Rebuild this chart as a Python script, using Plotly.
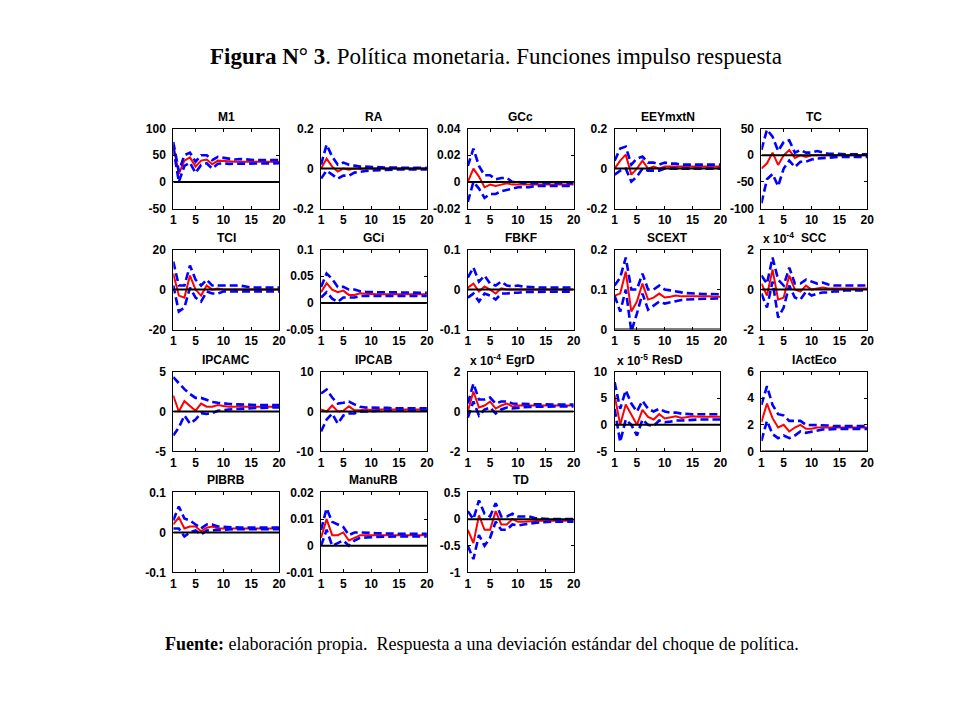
import plotly.graph_objects as go

periods = list(range(1, 21))

names = ["M1", "RA", "GCc", "EEYmxtN", "TC",
         "TCI", "GCi", "FBKF", "SCEXT", "SCC",
         "IPCAMC", "IPCAB", "EgrD", "ResD", "IActEco",
         "PIBRB", "ManuRB", "TD"]
exponents = {"SCC": "-4", "EgrD": "-4", "ResD": "-5"}

# ---- responses (red) and bands (blue dashed) ----
M1_mid = [70, 15, 40, 46, 29, 40, 42, 33, 40, 40, 39, 38, 38, 39, 38, 38, 38, 38, 38, 38]
M1_up = [75, 20, 50, 55, 38, 50, 50, 41, 47, 45, 43, 42, 43, 42, 41, 41, 41, 41, 41, 41]
M1_lo = [65, 0, 30, 36, 17, 32, 35, 25, 34, 35, 34, 34, 34, 35, 35, 35, 35, 35, 35, 35]

RA_mid = [0.0, 0.05, 0.01, -0.015, 0.0, -0.005, 0.0, -0.002, 0.0, 0.0, 0.0, 0.0, 0.0, 0.0, 0.0, 0.0, 0.0, 0.0, 0.0, 0.0]
RA_up = [0.02, 0.12, 0.06, 0.02, 0.03, 0.02, 0.015, 0.01, 0.01, 0.008, 0.006, 0.005, 0.005, 0.005, 0.004, 0.004, 0.004, 0.004, 0.004, 0.004]
RA_lo = [-0.05, -0.01, -0.03, -0.05, -0.035, -0.035, -0.02, -0.015, -0.012, -0.01, -0.008, -0.006, -0.005, -0.005, -0.004, -0.004, -0.004, -0.004, -0.004, -0.004]

GCc_mid = [0.0, 0.01, 0.004, -0.004, -0.002, -0.003, -0.002, -0.001, -0.002, -0.002, -0.002, -0.002, -0.002, -0.002, -0.002, -0.002, -0.002, -0.002, -0.002, -0.002]
GCc_up = [0.012, 0.025, 0.012, 0.005, 0.005, 0.002, 0.003, 0.003, 0.0, 0.0, -0.001, -0.001, -0.001, -0.001, -0.001, -0.001, -0.001, -0.001, -0.001, -0.001]
GCc_lo = [-0.015, 0.0, -0.005, -0.012, -0.009, -0.009, -0.007, -0.006, -0.005, -0.004, -0.004, -0.004, -0.003, -0.003, -0.003, -0.003, -0.003, -0.003, -0.003, -0.003]

EEY_mid = [0.0, 0.04, 0.07, -0.03, 0.0, 0.04, 0.0, 0.01, 0.0, 0.01, 0.01, 0.01, 0.01, 0.01, 0.01, 0.01, 0.01, 0.01, 0.01, 0.01]
EEY_up = [0.04, 0.1, 0.11, 0.02, 0.05, 0.06, 0.03, 0.03, 0.02, 0.03, 0.025, 0.025, 0.02, 0.02, 0.02, 0.02, 0.02, 0.02, 0.02, 0.02]
EEY_lo = [-0.03, -0.01, 0.0, -0.065, -0.04, 0.0, -0.01, -0.01, -0.01, 0.0, 0.0, 0.0, 0.0, 0.0, 0.0, 0.0, 0.0, 0.0, 0.0, 0.0]

TC_mid = [-25, -15, 5, -18, 0, 10, -5, 0, -3, 0, 0, 0, 0, 0, 0, 0, 0, 0, 0, 0]
TC_up = [10, 48, 35, 8, 25, 28, 5, 10, 5, 5, 8, 5, 3, 3, 2, 2, 2, 2, 2, 2]
TC_lo = [-90, -45, -35, -58, -25, -10, -22, -12, -12, -8, -6, -5, -4, -4, -3, -3, -3, -3, -3, -3]

TCI_mid = [8, -3, -4, 7, 0, -3, 2, 0, 0.5, 0, 0, 0, 0, 0, 0, 0, 0, 0, 0, 0]
TCI_up = [14, 2, 2, 12, 5, 2, 5, 2, 2, 2, 2, 2, 2, 1.5, 1, 1, 1, 1, 1, 1]
TCI_lo = [2, -11, -9, 1, -4, -6, -1, -2, -2, -1, -1, -1, -1, -1, -1, -1, -1, -1, -1, -1]

GCi_mid = [0.02, 0.037, 0.025, 0.02, 0.023, 0.015, 0.015, 0.018, 0.017, 0.016, 0.016, 0.016, 0.016, 0.016, 0.016, 0.016, 0.016, 0.016, 0.016, 0.016]
GCi_up = [0.03, 0.055, 0.045, 0.03, 0.03, 0.025, 0.025, 0.022, 0.021, 0.02, 0.02, 0.02, 0.02, 0.02, 0.02, 0.019, 0.019, 0.019, 0.019, 0.019]
GCi_lo = [0.01, 0.02, 0.008, 0.002, 0.01, 0.01, 0.01, 0.013, 0.013, 0.013, 0.013, 0.013, 0.013, 0.013, 0.013, 0.013, 0.013, 0.013, 0.013, 0.013]

FBKF_mid = [0.005, 0.015, -0.005, 0.008, 0.0, -0.01, 0.003, 0.0, 0.0, 0.0, 0.0, 0.0, 0.0, 0.0, 0.0, 0.0, 0.0, 0.0, 0.0, 0.0]
FBKF_up = [0.03, 0.055, 0.02, 0.035, 0.015, 0.01, 0.02, 0.01, 0.008, 0.01, 0.007, 0.006, 0.005, 0.005, 0.005, 0.005, 0.005, 0.005, 0.005, 0.005]
FBKF_lo = [-0.02, -0.01, -0.03, -0.01, -0.015, -0.025, -0.01, -0.01, -0.008, -0.008, -0.006, -0.006, -0.005, -0.005, -0.005, -0.005, -0.005, -0.005, -0.005, -0.005]

SCEXT_mid = [0.085, 0.09, 0.145, 0.045, 0.07, 0.115, 0.075, 0.08, 0.09, 0.08, 0.082, 0.085, 0.083, 0.083, 0.084, 0.083, 0.083, 0.083, 0.082, 0.082]
SCEXT_up = [0.11, 0.13, 0.18, 0.1, 0.1, 0.14, 0.1, 0.1, 0.11, 0.1, 0.098, 0.095, 0.093, 0.091, 0.09, 0.09, 0.089, 0.089, 0.088, 0.088]
SCEXT_lo = [0.085, 0.045, 0.1, -0.005, 0.04, 0.09, 0.05, 0.06, 0.07, 0.065, 0.068, 0.072, 0.074, 0.075, 0.076, 0.077, 0.077, 0.077, 0.078, 0.078]

SCC_mid = [0.3, -0.3, 1.0, -0.5, -0.4, 0.7, 0.0, -0.1, 0.2, 0.0, 0.05, 0.1, 0.05, 0.05, 0.05, 0.05, 0.05, 0.05, 0.05, 0.05]
SCC_up = [0.7, 0.3, 1.6, 0.5, 0.2, 1.1, 0.3, 0.3, 0.5, 0.4, 0.3, 0.35, 0.25, 0.2, 0.2, 0.2, 0.2, 0.2, 0.2, 0.2]
SCC_lo = [-0.2, -0.9, 0.4, -1.4, -0.9, 0.2, -0.4, -0.5, -0.1, -0.3, -0.2, -0.15, -0.15, -0.1, -0.1, -0.05, -0.05, -0.05, -0.05, -0.05]

IPCAMC_mid = [2.0, 0.0, 1.3, 0.7, 0.1, 1.0, 0.6, 0.6, 0.8, 0.7, 0.6, 0.6, 0.65, 0.6, 0.6, 0.6, 0.6, 0.6, 0.6, 0.6]
IPCAMC_up = [4.3, 3.5, 2.8, 2.2, 1.7, 1.7, 1.4, 1.2, 1.1, 1.0, 0.95, 0.9, 0.9, 0.85, 0.85, 0.8, 0.8, 0.8, 0.8, 0.8]
IPCAMC_lo = [-3.0, -2.0, -0.5, -1.5, -1.0, -0.2, -0.3, -0.2, 0.1, 0.2, 0.25, 0.3, 0.35, 0.4, 0.4, 0.45, 0.45, 0.5, 0.5, 0.5]

IPCAB_mid = [0.5, 0.0, 1.5, 0.0, 0.2, 1.3, 0.3, 0.3, 0.5, 0.4, 0.5, 0.5, 0.5, 0.5, 0.5, 0.5, 0.5, 0.5, 0.5, 0.5]
IPCAB_up = [4.5, 5.5, 3.5, 2.0, 2.2, 2.5, 1.8, 1.2, 1.0, 1.0, 0.9, 0.9, 0.9, 0.8, 0.8, 0.8, 0.8, 0.8, 0.8, 0.8]
IPCAB_lo = [-5.0, -2.0, -0.5, -3.0, -1.0, -0.5, -0.5, 0.0, 0.0, 0.1, 0.1, 0.2, 0.2, 0.2, 0.2, 0.2, 0.2, 0.2, 0.2, 0.2]

EgrD_mid = [0.0, 1.0, 0.2, 0.3, 0.5, 0.15, 0.3, 0.4, 0.25, 0.3, 0.3, 0.3, 0.3, 0.3, 0.3, 0.3, 0.3, 0.3, 0.3, 0.3]
EgrD_up = [0.4, 1.4, 0.6, 0.6, 0.7, 0.4, 0.5, 0.5, 0.4, 0.4, 0.38, 0.37, 0.36, 0.35, 0.35, 0.35, 0.35, 0.35, 0.35, 0.35]
EgrD_lo = [-0.3, 0.5, -0.2, 0.1, 0.2, -0.1, 0.1, 0.2, 0.15, 0.2, 0.22, 0.23, 0.24, 0.25, 0.25, 0.25, 0.25, 0.25, 0.25, 0.25]

ResD_mid = [5.5, 0.0, 3.8, 2.0, 0.0, 2.8, 1.5, 1.0, 2.0, 1.2, 1.4, 1.6, 1.3, 1.5, 1.6, 1.5, 1.5, 1.5, 1.5, 1.5]
ResD_up = [8.0, 3.0, 6.5, 4.0, 2.5, 4.5, 3.0, 2.5, 3.0, 2.5, 2.3, 2.3, 2.1, 2.0, 2.0, 2.0, 2.0, 2.0, 2.0, 2.0]
ResD_lo = [3.0, -3.2, 1.0, 0.0, -2.0, 1.0, 0.0, -0.2, 0.8, 0.5, 0.6, 0.8, 0.8, 0.9, 1.0, 1.0, 1.0, 1.0, 1.0, 1.0]

IAct_mid = [2.2, 3.6, 2.5, 1.8, 2.0, 1.5, 1.8, 2.0, 1.7, 1.7, 1.8, 1.8, 1.8, 1.8, 1.8, 1.8, 1.8, 1.8, 1.8, 1.8]
IAct_up = [3.5, 4.9, 3.5, 2.8, 2.7, 2.3, 2.3, 2.3, 2.0, 2.0, 2.0, 1.95, 1.95, 1.9, 1.9, 1.9, 1.9, 1.9, 1.9, 1.9]
IAct_lo = [0.8, 2.3, 1.3, 1.0, 1.2, 1.0, 1.2, 1.5, 1.4, 1.5, 1.6, 1.65, 1.65, 1.7, 1.7, 1.7, 1.7, 1.7, 1.7, 1.7]

PIBRB_mid = [0.02, 0.038, 0.01, 0.015, 0.015, 0.003, 0.012, 0.015, 0.01, 0.01, 0.01, 0.01, 0.01, 0.01, 0.01, 0.01, 0.01, 0.01, 0.01, 0.01]
PIBRB_up = [0.03, 0.065, 0.035, 0.03, 0.02, 0.01, 0.02, 0.02, 0.015, 0.014, 0.013, 0.013, 0.012, 0.012, 0.012, 0.012, 0.012, 0.012, 0.012, 0.012]
PIBRB_lo = [0.01, 0.01, -0.01, 0.0, 0.005, -0.005, 0.005, 0.005, 0.006, 0.007, 0.008, 0.008, 0.008, 0.008, 0.008, 0.008, 0.008, 0.008, 0.008, 0.008]

ManuRB_mid = [0.003, 0.01, 0.004, 0.004, 0.005, 0.002, 0.003, 0.004, 0.004, 0.004, 0.004, 0.004, 0.004, 0.004, 0.004, 0.004, 0.004, 0.004, 0.004, 0.004]
ManuRB_up = [0.006, 0.014, 0.009, 0.008, 0.007, 0.004, 0.005, 0.005, 0.005, 0.0048, 0.0047, 0.0046, 0.0045, 0.0045, 0.0045, 0.0045, 0.0045, 0.0045, 0.0045, 0.0045]
ManuRB_lo = [0.0, 0.006, 0.0, 0.001, 0.002, 0.0, 0.002, 0.003, 0.003, 0.0032, 0.0033, 0.0034, 0.0035, 0.0035, 0.0035, 0.0035, 0.0035, 0.0035, 0.0035, 0.0035]

TD_mid = [-0.2, -0.45, 0.07, -0.2, -0.2, 0.15, -0.1, -0.1, 0.0, -0.05, -0.05, -0.04, -0.03, -0.03, -0.03, -0.03, -0.03, -0.03, -0.03, -0.03]
TD_up = [0.15, 0.0, 0.35, 0.1, 0.05, 0.3, 0.05, 0.05, 0.1, 0.05, 0.05, 0.05, 0.02, 0.01, 0.0, 0.0, 0.0, 0.0, 0.0, 0.0]
TD_lo = [-0.5, -0.75, -0.3, -0.5, -0.35, -0.05, -0.2, -0.2, -0.1, -0.12, -0.1, -0.08, -0.07, -0.06, -0.05, -0.05, -0.05, -0.05, -0.05, -0.05]

# ---- y-axis ticks per panel ----
M1_ticks = [-50, 0, 50, 100]
RA_ticks = [-0.2, 0, 0.2]
GCc_ticks = [-0.02, 0, 0.02, 0.04]
EEY_ticks = [-0.2, 0, 0.2]
TC_ticks = [-100, -50, 0, 50]
TCI_ticks = [-20, 0, 20]
GCi_ticks = [-0.05, 0, 0.05, 0.1]
FBKF_ticks = [-0.1, 0, 0.1]
SCEXT_ticks = [0, 0.1, 0.2]
SCC_ticks = [-2, 0, 2]
IPCAMC_ticks = [-5, 0, 5]
IPCAB_ticks = [-10, 0, 10]
EgrD_ticks = [-2, 0, 2]
ResD_ticks = [-5, 0, 5, 10]
IAct_ticks = [0, 2, 4, 6]
PIBRB_ticks = [-0.1, 0, 0.1]
ManuRB_ticks = [-0.01, 0, 0.01, 0.02]
TD_ticks = [-1, -0.5, 0, 0.5]
x_ticks = [1, 5, 10, 15, 20]

panels = [
    (M1_mid, M1_up, M1_lo, M1_ticks),
    (RA_mid, RA_up, RA_lo, RA_ticks),
    (GCc_mid, GCc_up, GCc_lo, GCc_ticks),
    (EEY_mid, EEY_up, EEY_lo, EEY_ticks),
    (TC_mid, TC_up, TC_lo, TC_ticks),
    (TCI_mid, TCI_up, TCI_lo, TCI_ticks),
    (GCi_mid, GCi_up, GCi_lo, GCi_ticks),
    (FBKF_mid, FBKF_up, FBKF_lo, FBKF_ticks),
    (SCEXT_mid, SCEXT_up, SCEXT_lo, SCEXT_ticks),
    (SCC_mid, SCC_up, SCC_lo, SCC_ticks),
    (IPCAMC_mid, IPCAMC_up, IPCAMC_lo, IPCAMC_ticks),
    (IPCAB_mid, IPCAB_up, IPCAB_lo, IPCAB_ticks),
    (EgrD_mid, EgrD_up, EgrD_lo, EgrD_ticks),
    (ResD_mid, ResD_up, ResD_lo, ResD_ticks),
    (IAct_mid, IAct_up, IAct_lo, IAct_ticks),
    (PIBRB_mid, PIBRB_up, PIBRB_lo, PIBRB_ticks),
    (ManuRB_mid, ManuRB_up, ManuRB_lo, ManuRB_ticks),
    (TD_mid, TD_up, TD_lo, TD_ticks),
]

W, H = 960, 720
col_left = [172, 320, 467, 614, 761]
ax_w = 106
row_top = [129, 250, 372, 493]
ax_h = 80

# small calibration of the photographed page against target pixel positions
SX, OX = 0.991, 1.5
SY, OY = 0.981, 7.3


def px(xp):
    return ((xp - OX) / SX) / W


def py(yp):
    return 1 - ((yp - OY) / SY) / H


fig = go.Figure()
layout = dict(
    width=W, height=H,
    margin=dict(l=0, r=0, t=0, b=0),
    paper_bgcolor="white", plot_bgcolor="white",
    showlegend=False,
)
annotations = []
tick_font = dict(family="Arial", size=12, color="black", weight="bold")

for i, (name, (mid, up, lo, yt)) in enumerate(zip(names, panels)):
    r, c = divmod(i, 5)
    k = i + 1
    xa = "x" if k == 1 else f"x{k}"
    ya = "y" if k == 1 else f"y{k}"
    ax_common = dict(showline=True, linecolor="black", linewidth=1, mirror="ticks",
                     ticks="inside", ticklen=3, tickcolor="black", showgrid=False,
                     zeroline=False, tickfont=tick_font)
    layout["xaxis" if k == 1 else f"xaxis{k}"] = dict(
        ax_common, domain=[px(col_left[c]), px(col_left[c] + ax_w)], anchor=ya, range=[1, 20],
        tickvals=x_ticks, ticktext=[str(v) for v in x_ticks], ticklabelstandoff=0)
    layout["yaxis" if k == 1 else f"yaxis{k}"] = dict(
        ax_common, domain=[py(row_top[r] + ax_h), py(row_top[r])], anchor=xa,
        range=[yt[0], yt[-1]], tickvals=yt, ticktext=[f"{v:g}" for v in yt],
        ticklabelstandoff=4)
    fig.add_trace(go.Scatter(x=periods, y=mid, mode="lines", xaxis=xa, yaxis=ya,
                             line=dict(color="#ff0000", width=2)))
    fig.add_trace(go.Scatter(x=periods, y=up, mode="lines", xaxis=xa, yaxis=ya,
                             line=dict(color="#0000ff", width=2.6, dash="8px,4px")))
    fig.add_trace(go.Scatter(x=periods, y=lo, mode="lines", xaxis=xa, yaxis=ya,
                             line=dict(color="#0000ff", width=2.6, dash="8px,4px")))
    fig.add_trace(go.Scatter(x=periods, y=[0] * len(periods), mode="lines", xaxis=xa, yaxis=ya,
                             line=dict(color="black", width=2)))
    cx = px(col_left[c] + ax_w / 2)
    annotations.append(dict(text=f"<b>{name}</b>", x=cx, y=py(row_top[r] - 12),
                            xref="paper", yref="paper", showarrow=False,
                            font=dict(family="Arial", size=12, color="black"),
                            xanchor="center", yanchor="middle"))
    if name in exponents:
        annotations.append(dict(text=f"<b>x 10<sup>{exponents[name]}</sup></b>",
                                x=px(col_left[c]), y=py(row_top[r] - 12),
                                xref="paper", yref="paper", showarrow=False,
                                font=dict(family="Arial", size=12, color="black"),
                                xanchor="left", yanchor="middle"))

annotations.append(dict(
    text="<b>Figura N° 3</b>. Política monetaria. Funciones impulso respuesta",
    x=px(495), y=py(57), xref="paper", yref="paper", showarrow=False,
    font=dict(family="Liberation Serif", size=23, color="black"),
    xanchor="center", yanchor="middle"))
annotations.append(dict(
    text="<b>Fuente:</b> elaboración propia.  Respuesta a una deviación estándar del choque de política.",
    x=px(481), y=py(645), xref="paper", yref="paper", showarrow=False,
    font=dict(family="Liberation Serif", size=18, color="black"),
    xanchor="center", yanchor="middle"))

layout["annotations"] = annotations
fig.update_layout(**layout)
fig.write_html("out.html", config={"displayModeBar": False},
               post_script="document.body.style.margin='0px';document.body.style.overflow='hidden';")
